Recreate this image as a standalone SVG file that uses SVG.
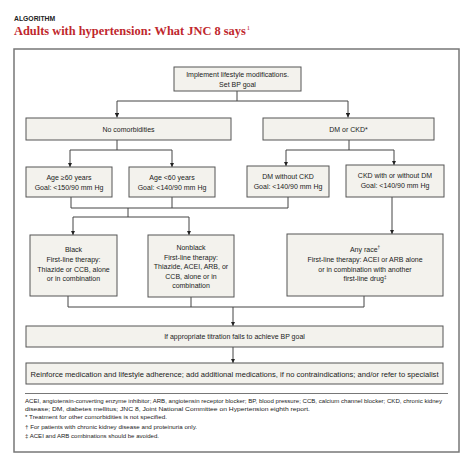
<svg xmlns="http://www.w3.org/2000/svg" width="474" height="466" viewBox="0 0 474 466">
<defs>
<style>
.box{fill:#f3f2ed;stroke:#555;stroke-width:1}
.t{font-family:"Liberation Sans",Arial,sans-serif;font-size:7px;fill:#222;text-anchor:middle}
.fn{font-family:"Liberation Sans",Arial,sans-serif;font-size:5.6px;fill:#222}
.c{fill:none;stroke:#444;stroke-width:1}
.ca{fill:none;stroke:#444;stroke-width:1;marker-end:url(#ah)}
</style>
<marker id="ah" viewBox="0 0 6 6" refX="6" refY="3" markerWidth="4.5" markerHeight="4.5" orient="auto" markerUnits="userSpaceOnUse">
<path d="M0,0 L6,3 L0,6 Z" fill="#222"/>
</marker>
</defs>
<rect width="474" height="466" fill="#fff"/>
<text x="14" y="21" font-family="'Liberation Sans',Arial,sans-serif" font-size="6.8" font-weight="bold" fill="#222">ALGORITHM</text>
<text x="14" y="35" font-family="'Liberation Serif','Times New Roman',serif" font-size="12.4" font-weight="bold" fill="#c0272d">Adults with hypertension: What JNC 8 says<tspan font-size="6.5" font-weight="normal" dx="1" dy="-5.5">1</tspan></text>
<rect x="14" y="49" width="445" height="403" fill="none" stroke="#777" stroke-width="1.5"/>

<g id="connectors">
<path class="c" d="M237,91 V101 M117,101 H348"/>
<path class="ca" d="M117,101 V117.5"/>
<path class="ca" d="M348,101 V117.5"/>
<path class="c" d="M117,140 V150 M70,150 H172"/>
<path class="ca" d="M70,150 V167"/>
<path class="ca" d="M172,150 V167"/>
<path class="c" d="M349,140 V150 M286,150 H394"/>
<path class="ca" d="M286,150 V166"/>
<path class="ca" d="M394,150 V165"/>
<path class="c" d="M71,197 V208 M172,197 V208 M288,197 V208 M71,208 H288 M128,208 V217 M73,217 H189"/>
<path class="ca" d="M73,217 V235"/>
<path class="ca" d="M189,217 V235"/>
<path class="ca" d="M392,197 V234"/>
<path class="c" d="M68,296 V307 M191,297 V307 M364,296 V307 M68,307 H364"/>
<path class="ca" d="M233,307 V326"/>
<path class="ca" d="M233,347 V363"/>
</g>

<g id="n-start">
<rect class="box" x="174" y="67" width="127" height="24"/>
<text class="t" x="237.5" y="77">Implement lifestyle modifications.</text>
<text class="t" x="237.5" y="87">Set BP goal</text>
</g>
<g id="n-nocomorb">
<rect class="box" x="26" y="118" width="205" height="22"/>
<text class="t" x="128.5" y="131.5">No comorbidities</text>
</g>
<g id="n-dmckd">
<rect class="box" x="263" y="118" width="171" height="22"/>
<text class="t" x="348.5" y="131.5">DM or CKD*</text>
</g>
<g id="n-age60plus">
<rect class="box" x="26" y="167" width="86" height="30"/>
<text class="t" x="69" y="180">Age ≥60 years</text>
<text class="t" x="69" y="190">Goal: &lt;150/90 mm Hg</text>
</g>
<g id="n-ageunder60">
<rect class="box" x="129" y="167" width="86" height="30"/>
<text class="t" x="172" y="180">Age &lt;60 years</text>
<text class="t" x="172" y="190">Goal: &lt;140/90 mm Hg</text>
</g>
<g id="n-dmnockd">
<rect class="box" x="247" y="166" width="82" height="31"/>
<text class="t" x="288" y="179">DM without CKD</text>
<text class="t" x="288" y="189">Goal: &lt;140/90 mm Hg</text>
</g>
<g id="n-ckd">
<rect class="box" x="346" y="165" width="98" height="32"/>
<text class="t" x="395" y="178">CKD with or without DM</text>
<text class="t" x="395" y="188">Goal: &lt;140/90 mm Hg</text>
</g>
<g id="n-black">
<rect class="box" x="30" y="235" width="87" height="61"/>
<text class="t" x="73.5" y="252">Black</text>
<text class="t" x="73.5" y="261.5">First-line therapy:</text>
<text class="t" x="73.5" y="271.5">Thiazide or CCB, alone</text>
<text class="t" x="73.5" y="281">or in combination</text>
</g>
<g id="n-nonblack">
<rect class="box" x="148" y="235" width="86" height="62"/>
<text class="t" x="191" y="249.5">Nonblack</text>
<text class="t" x="191" y="259.5">First-line therapy:</text>
<text class="t" x="191" y="269">Thiazide, ACEI, ARB, or</text>
<text class="t" x="191" y="278.5">CCB, alone or in</text>
<text class="t" x="191" y="288">combination</text>
</g>
<g id="n-anyrace">
<rect class="box" x="287" y="234" width="156" height="62"/>
<text class="t" x="365" y="251.5">Any race<tspan font-size="4.5" dy="-2.5">†</tspan></text>
<text class="t" x="365" y="261.5">First-line therapy: ACEI or ARB alone</text>
<text class="t" x="365" y="271.5">or in combination with another</text>
<text class="t" x="365" y="281">first-line drug<tspan font-size="4.5" dy="-2.5">‡</tspan></text>
</g>
<g id="n-titration">
<rect class="box" x="26" y="326" width="417" height="21"/>
<text class="t" x="234.5" y="339">If appropriate titration fails to achieve BP goal</text>
</g>
<g id="n-reinforce">
<rect class="box" x="26" y="363" width="417" height="21"/>
<text class="t" x="234.5" y="376.5" textLength="408" lengthAdjust="spacingAndGlyphs">Reinforce medication and lifestyle adherence; add additional medications, if no contraindications; and/or refer to specialist</text>
</g>

<line x1="25" y1="393.5" x2="448" y2="393.5" stroke="#777" stroke-width="1"/>
<text class="fn" x="25" y="403" textLength="417" lengthAdjust="spacingAndGlyphs">ACEI, angiotensin-converting enzyme inhibitor; ARB, angiotensin receptor blocker; BP, blood pressure; CCB, calcium channel blocker; CKD, chronic kidney</text>
<text class="fn" x="25" y="410.5" textLength="285" lengthAdjust="spacingAndGlyphs">disease; DM, diabetes mellitus; JNC 8, Joint National Committee on Hypertension eighth report.</text>
<text class="fn" x="25" y="419" textLength="142" lengthAdjust="spacingAndGlyphs">* Treatment for other comorbidities is not specified.</text>
<text class="fn" x="25" y="429" textLength="172" lengthAdjust="spacingAndGlyphs">† For patients with chronic kidney disease and proteinuria only.</text>
<text class="fn" x="25" y="438" textLength="134" lengthAdjust="spacingAndGlyphs">‡ ACEI and ARB combinations should be avoided.</text>
</svg>
